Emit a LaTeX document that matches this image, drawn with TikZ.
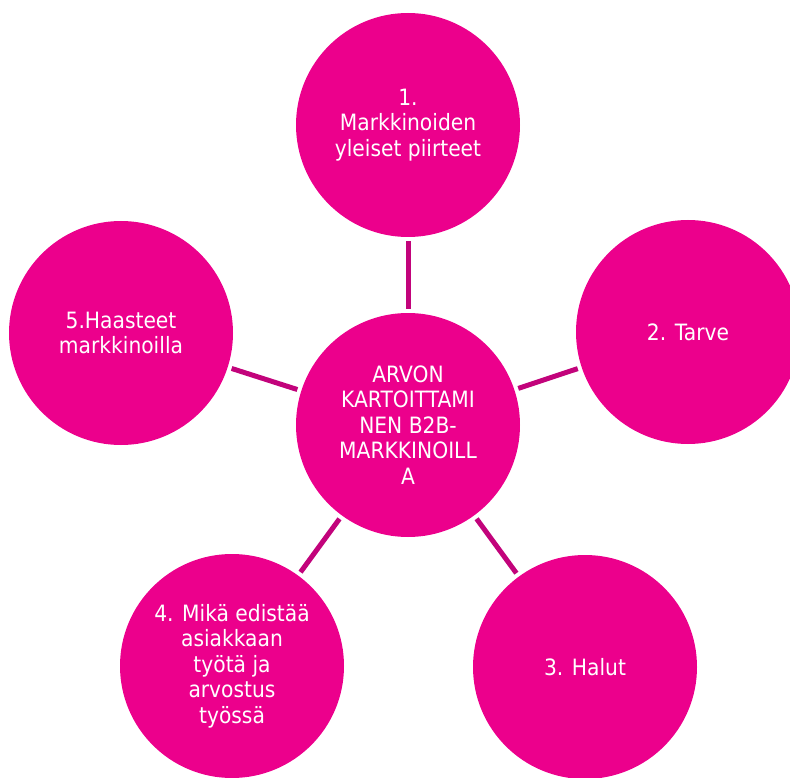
\documentclass[tikz,border=0pt]{standalone}
\usepackage{fontspec}
\setmainfont{DejaVu Sans}[FakeStretch=0.9]
\usepackage{tikz}
\definecolor{pinkfill}{HTML}{EC008C}
\definecolor{pinkline}{HTML}{C2037B}

\begin{document}
\begin{tikzpicture}[x=1pt, y=-1pt,
    ball/.style={circle, fill=pinkfill, minimum size=224pt, inner sep=0pt,
        text=white, align=center, font=\fontsize{22.5}{25.5}\selectfont},
    link/.style={draw=pinkline, line width=5pt, shorten >=4pt, shorten <=4pt}]
    \clip (0,0) rectangle (790,778);
    \node[ball] (0) at (408,425) {ARVON\\KARTOITTAMI\\NEN B2B-\\MARKKINOILL\\A};
    \node[ball] (1) at (408,125) {1.\\Markkinoiden\\yleiset piirteet};
    \node[ball] (2) at (688,332) {2. Tarve};
    \node[ball] (3) at (585,667) {3. Halut};
    \node[ball] (4) at (232,666) {4. Mikä edistää\\asiakkaan\\työtä ja\\arvostus\\työssä};
    \node[ball] (5) at (121,333) {5.Haasteet\\markkinoilla};

    % spokes from the middle
    \foreach \i in {1,2,3,4,5}
        \draw[link] (0)--(\i);
\end{tikzpicture}
\end{document}
